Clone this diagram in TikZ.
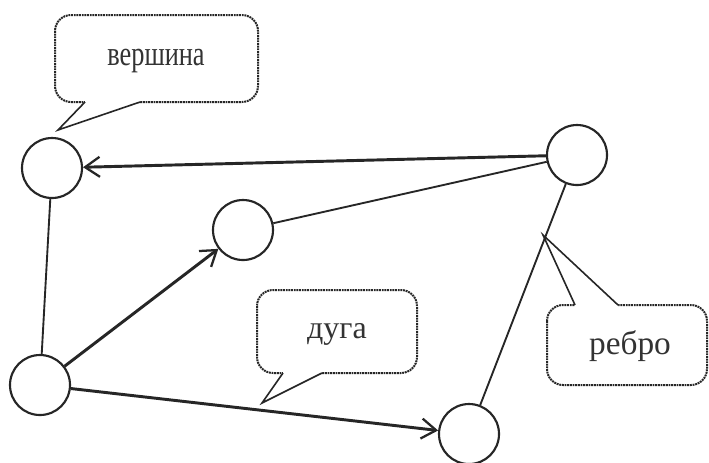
\documentclass[tikz,border=0pt]{standalone}
\usepackage{fontspec}
\setmainfont{Liberation Serif}
\usetikzlibrary{arrows.meta}
\begin{document}
\begin{tikzpicture}[x=0.75pt,y=-0.75pt,
  ink/.style={draw=black!85},
  vertex/.style={circle,ink,line width=1.6pt,minimum size=45pt,inner sep=0pt},
  arcline/.style={ink,line width=2.2pt,-{Straight Barb[length=11pt,width=15pt,line width=1.7pt]}},
  edgeline/.style={ink,line width=1.4pt},
  bubble/.style={ink,line width=1.5pt,dash pattern=on 1.4pt off 0.6pt,rounded corners=12pt},
  tail/.style={ink,line width=1.2pt,line join=miter},
  lbl/.style={font=\fontsize{24}{28}\selectfont,text=black!80,inner sep=0pt}
]
\useasboundingbox (0,0) rectangle (709,462);
\fill[white] (0,0) rectangle (709,462);

% vertices
\node[vertex] (A) at (52,168) {};
\node[vertex] (B) at (243,230) {};
\node[vertex] (C) at (577,155) {};
\node[vertex] (D) at (40,385) {};
\node[vertex] (E) at (469,434) {};

% connectors
\draw[arcline] (C) -- (A);
\draw[edgeline] (B) -- (C);
\draw[edgeline] (A) -- (D);
\draw[arcline] (D) -- (B);
\draw[arcline] (D) -- (E);
\draw[edgeline] (C) -- (E);

% callout: вершина
\draw[bubble] (55,15) rectangle (258,102);
\coordinate (t1a) at (85,102);
\coordinate (t1tip) at (58,130);
\coordinate (t1b) at (140,102);
\fill[white] (85,99) -- (t1a) -- (t1tip) -- (t1b) -- (140,99) -- cycle;
\draw[tail] (t1a) -- (t1tip) -- (t1b);
\node[lbl,font=\fontsize{26}{30}\selectfont\addfontfeatures{FakeStretch=0.76}] (v) at (156,61) {вершина};

% callout: дуга
\draw[bubble] (257,290) rectangle (417,373);
\coordinate (t2a) at (283,373);
\coordinate (t2tip) at (262,403);
\coordinate (t2b) at (322,373);
\fill[white] (283,370) -- (t2a) -- (t2tip) -- (t2b) -- (322,370) -- cycle;
\draw[tail] (t2a) -- (t2tip) -- (t2b);
\node[lbl] (d) at (337,334) {дуга};

% callout: ребро
\draw[bubble] (547,305) rectangle (707,385);
\coordinate (t3a) at (575,305);
\coordinate (t3tip) at (543,235);
\coordinate (t3b) at (618,305);
\fill[white] (575,308) -- (t3a) -- (t3tip) -- (t3b) -- (618,308) -- cycle;
\draw[tail] (t3a) -- (t3tip) -- (t3b);
\node[lbl,font=\fontsize{25}{29}\selectfont] (r) at (630,346) {ребро};
\end{tikzpicture}
\end{document}
